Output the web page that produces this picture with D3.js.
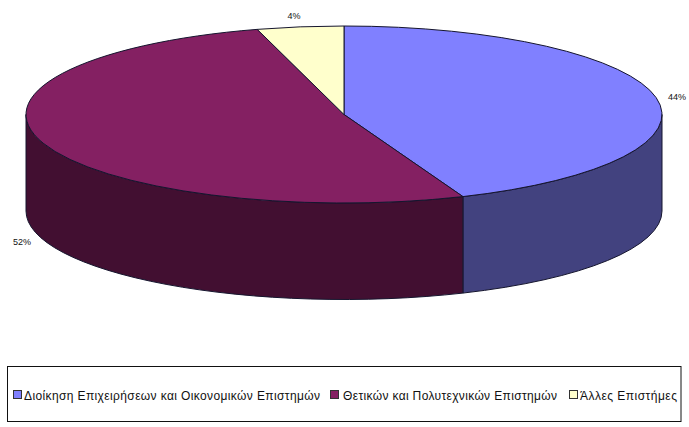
<!DOCTYPE html>
<html>
<head>
<meta charset="utf-8">
<script src="https://cdn.jsdelivr.net/npm/d3@7"></script>
<style>
  html, body { margin: 0; padding: 0; background: #fff; }
  svg { display: block; }
  text { font-family: "Liberation Sans", Arial, sans-serif; fill: #111; }
</style>
</head>
<body>
<svg id="chart" width="689" height="427"></svg>
<script>
// --- Data ---
const categories = ["Διοίκηση Επιχειρήσεων και Οικονομικών Επιστημών", "Θετικών και Πολυτεχνικών Επιστημών", "Άλλες Επιστήμες"];
const shares = [43.9, 51.7, 4.4];
const topColors = ["#8080ff", "#842062", "#ffffcc"];
const sideColors = ["#42427f", "#420f31"];

// --- Setup ---
const svg = d3.select("#chart");
const cx = 344, cy = 114.5, rx = 318, ry = 88.5, depth = 96.5;

const xScale = d3.scaleLinear().domain([-1, 1]).range([cx - rx, cx + rx]);
const yScale = d3.scaleLinear().domain([-1, 1]).range([cy - ry, cy + ry]);

const slices = d3.pie().sort(null).value(d => d)(shares);

// angle is clockwise from 12 o'clock
const px = a => xScale(Math.sin(a));
const py = a => yScale(-Math.cos(a));

// --- Side wall (only the front half of the ellipse shows) ---
slices.forEach((s, i) => {
    const a0 = Math.max(s.startAngle, Math.PI / 2);
    const a1 = Math.min(s.endAngle, Math.PI * 1.5);
    if (a1 <= a0) return;
    svg.append("path")
        .attr("d", `M${px(a0)},${py(a0)} L${px(a0)},${py(a0) + depth}
            A${rx},${ry} 0 0 1 ${px(a1)},${py(a1) + depth}
            L${px(a1)},${py(a1)} A${rx},${ry} 0 0 0 ${px(a0)},${py(a0)} Z`)
        .attr("fill", sideColors[i])
        .attr("stroke", "#15152e")
        .attr("stroke-width", 1);
});

// --- Top face ---
slices.forEach((s, i) => {
    const large = s.endAngle - s.startAngle > Math.PI ? 1 : 0;
    svg.append("path")
        .attr("d", `M${cx},${cy} L${px(s.startAngle)},${py(s.startAngle)}
            A${rx},${ry} 0 ${large} 1 ${px(s.endAngle)},${py(s.endAngle)} Z`)
        .attr("fill", topColors[i])
        .attr("stroke", "#15152e")
        .attr("stroke-width", 1);
});

// --- Percent labels ---
const labelSpots = [[677, 100], [22, 245], [294, 18.5]];
shares.forEach((v, i) => {
    svg.append("text")
        .attr("x", labelSpots[i][0])
        .attr("y", labelSpots[i][1])
        .attr("text-anchor", "middle")
        .style("font-size", "9px")
        .text(`${Math.round(v)}%`);
});

// --- Legend ---
svg.append("rect")
    .attr("x", 7.5).attr("y", 366.5)
    .attr("width", 673.5).attr("height", 55)
    .attr("fill", "#fff")
    .attr("stroke", "#111");

const swatchX = [13.5, 330.5, 569.5];
const textX = [24, 343, 580];
const textW = [296, 214, 97];
categories.forEach((c, i) => {
    svg.append("rect")
        .attr("x", swatchX[i]).attr("y", 390.5)
        .attr("width", 8).attr("height", 8)
        .attr("fill", topColors[i])
        .attr("stroke", "#333");
    svg.append("text")
        .attr("x", textX[i])
        .attr("y", 400)
        .attr("textLength", textW[i])
        .attr("lengthAdjust", "spacing")
        .style("font-size", "12px")
        .text(c);
});
</script>
</body>
</html>
